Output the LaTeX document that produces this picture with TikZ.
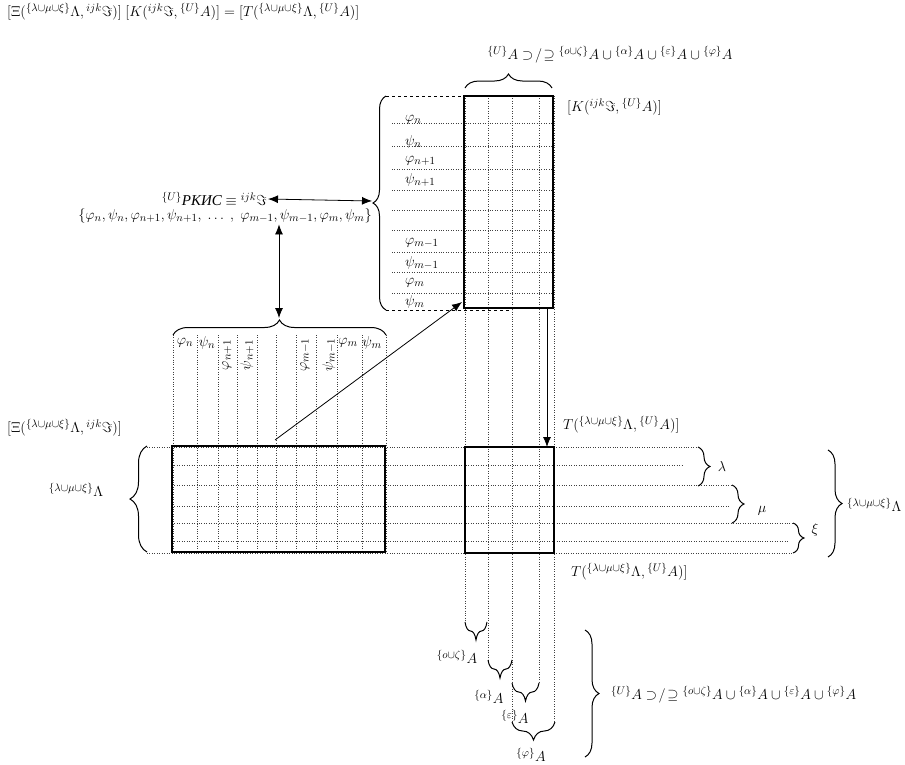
\documentclass[tikz,border=0pt]{standalone}
\usepackage{fontspec}
\setmainfont{Liberation Serif}
\usetikzlibrary{decorations.pathreplacing,arrows.meta}

\newcommand{\LMX}{{}^{\{\lambda\cup\mu\cup\xi\}}\Lambda}
\newcommand{\UA}{{}^{\{U\}}A}
\newcommand{\IJK}{{}^{ijk}\Im}
\newcommand{\UNION}{\UA\supset\!/\!\supseteq{}^{\{o\cup\zeta\}}A\cup{}^{\{\alpha\}}A\cup{}^{\{\varepsilon\}}A\cup{}^{\{\varphi\}}A}

\begin{document}
\begin{tikzpicture}[x=1pt, y=-1pt, >={Latex[length=10pt,width=8pt]},
    gridl/.style={dotted, line width=0.45pt, black!75},
    boxline/.style={line width=1.1pt},
    brc/.style={decorate, decoration={brace, amplitude=#1}, line width=1pt},
    lbl/.style={font=\fontsize{15}{17}\selectfont, inner sep=1pt}]
    \useasboundingbox (0,0) rectangle (905,764);

    % 1. Dotted grid lines
    \foreach \y in {123,146,169,190,210,230,252,272,293}
        \draw[gridl] (392,\y) -- (553,\y);
    \foreach \x/\e in {465/622,488/660,512/722,539/683,554/722}
        \draw[gridl] (\x,96) -- (\x,\e);
    \foreach \x in {173,197,218,237,257,276,296,316,337,362,386}
        \draw[gridl] (\x,335) -- (\x,552);
    \foreach \s/\y/\e in {147/447/698,172/465/683,172/485/732,172/506/730,172/523/793,172/541/787,147/553/793}
        \draw[gridl] (\s,\y) -- (\e,\y);

    % 2. Matrices
    \draw[boxline] (464,96) rectangle (553,308);
    \draw[boxline] (172,446) rectangle (385,552);
    \draw[boxline] (465,447) rectangle (554,553);
    \draw[dashed, thick] (386,96) -- (464,96);
    \draw[dashed, thick] (386,310) -- (512,310);

    % 3. Braces
    \draw[brc=14pt] (465,88) -- (552,88);
    \draw[brc=13pt] (386,310) -- (386,96);
    \draw[brc=15pt] (173,335) -- (386,335);
    \draw[brc=17pt] (147,552) -- (147,446);
    \draw[brc=12pt] (698,447) -- (698,486);
    \draw[brc=12pt] (732,485) -- (732,523);
    \draw[brc=11pt] (793,523) -- (793,553);
    \draw[brc=14pt] (828,450) -- (828,557);
    \draw[brc=18pt] (487,622) -- (465,622);
    \draw[brc=18pt] (512,660) -- (488,660);
    \draw[brc=18pt] (539,683) -- (512,683);
    \draw[brc=18pt] (555,722) -- (512,722);
    \draw[brc=14pt] (585,630) -- (585,757);

    % 4. Labels
    \node[lbl, anchor=west] (title) at (6,12) {$[\Xi(\LMX,\IJK)]\ [K(\IJK,\UA)] = [T(\LMX,\UA)]$};
    \node[lbl] (topset) at (610,55) {$\UNION$};
    \node[lbl, anchor=west] (klbl) at (566,107) {$[K(\IJK,\UA)]$};
    \node[lbl, anchor=east] (rkis) at (268,199) {$^{\{U\}}$\textit{РКИС} $\equiv\IJK$};
    \node[lbl] (setline) at (225,216) {$\{\varphi_n,\psi_n,\varphi_{n+1},\psi_{n+1},\ \ldots\ ,\ \varphi_{m-1},\psi_{m-1},\varphi_m,\psi_m\}$};
    \node[lbl, anchor=west] (xilbl) at (6,428) {$[\Xi(\LMX,\IJK)]$};
    \node[lbl] (lamleft) at (76,490) {$\LMX$};
    \node[lbl, anchor=west] (tup) at (562,425) {$T(\LMX,\UA)]$};
    \node[lbl, anchor=west] (tdown) at (570,572) {$T(\LMX,\UA)]$};
    \node[lbl] (lam) at (722,466) {$\lambda$};
    \node[lbl] (mu) at (762,511) {$\mu$};
    \node[lbl] (xi) at (815,530) {$\xi$};
    \node[lbl, anchor=west] (lamright) at (846,505) {$\LMX$};
    \node[lbl] (oz) at (457,657) {${}^{\{o\cup\zeta\}}A$};
    \node[lbl] (al) at (489,697) {${}^{\{\alpha\}}A$};
    \node[lbl] (ep) at (515,717) {${}^{\{\varepsilon\}}A$};
    \node[lbl] (ph) at (531,755) {${}^{\{\varphi\}}A$};
    \node[lbl, anchor=west] (botset) at (610,695) {$\UNION$};

    % rows of K
    \foreach \t/\y in {\varphi_n/120,\psi_n/142,\varphi_{n+1}/161,\psi_{n+1}/180,\varphi_{m-1}/243,\psi_{m-1}/263,\varphi_m/283,\psi_m/302}
        \node[lbl, anchor=west] at (404,\y) {$\t$};
    % columns of Xi
    \foreach \t/\x in {\varphi_n/185,\psi_n/207,\varphi_m/348,\psi_m/372}
        \node[lbl] at (\x,343) {$\t$};
    \foreach \t/\x in {\varphi_{n+1}/227,\psi_{n+1}/247,\varphi_{m-1}/305,\psi_{m-1}/329}
        \node[lbl, rotate=90] at (\x,355) {$\t$};

    % 5. Arrows
    \coordinate (ktip) at (372,201);
    \coordinate (ltip) at (279,318);
    \coordinate (dfrom) at (275,440);
    \coordinate (dto) at (462,302);
    \coordinate (vfrom) at (547,308);
    \coordinate (vto) at (547,447);
    \draw[<->, thick] (rkis.east) -- (ktip);
    \draw[<->, thick] (setline.south -| ltip) -- (ltip);
    \draw[->, thick] (dfrom) -- (dto);
    \draw[->, thick] (vfrom) -- (vto);
\end{tikzpicture}
\end{document}
